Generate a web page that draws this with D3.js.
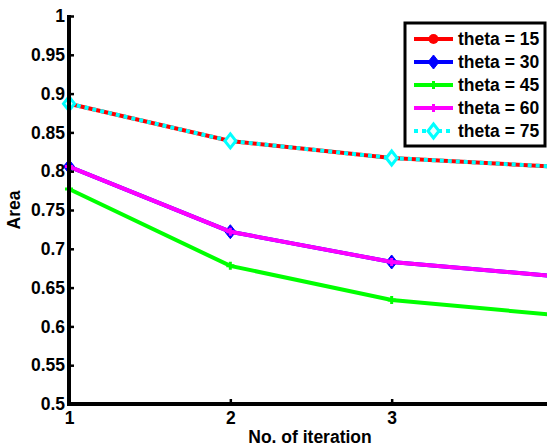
<!DOCTYPE html>
<html>
<head>
<meta charset="utf-8">
<script src="https://cdn.jsdelivr.net/npm/d3@7"></script>
<style>
  body { margin: 0; background: #fff; }
  svg { display: block; font-family: 'Liberation Sans', Arial, sans-serif; font-weight: bold; }
</style>
</head>
<body>
<svg id="chart" width="547" height="447"></svg>
<script>
// values
const iterations = [1, 2, 3, 4]
const theta15 = [0.887, 0.839, 0.817, 0.806]
const theta30 = [0.806, 0.722, 0.683, 0.665]
const theta45 = [0.777, 0.678, 0.634, 0.615]
const theta60 = [0.806, 0.722, 0.683, 0.665]
const theta75 = [0.887, 0.839, 0.817, 0.806]
const seriesNames = ['theta = 15', 'theta = 30', 'theta = 45', 'theta = 60', 'theta = 75']
const xTicks = [1, 2, 3]
const yTicks = [0.5, 0.55, 0.6, 0.65, 0.7, 0.75, 0.8, 0.85, 0.9, 0.95, 1]

const series = [
  {name: seriesNames[0], values: theta15, color: '#ff0000', marker: 'circle', dash: null},
  {name: seriesNames[1], values: theta30, color: '#0000ff', marker: 'diamond', dash: null},
  {name: seriesNames[2], values: theta45, color: '#00ff00', marker: 'plus', dash: null},
  {name: seriesNames[3], values: theta60, color: '#ff00ff', marker: 'plus', dash: null},
  {name: seriesNames[4], values: theta75, color: '#00ffff', marker: 'openDiamond', dash: '4,4'}
]

const fontSize = 17.5
const svg = d3.select('#chart')
const xScale = d3.scaleLinear().domain([1, 4]).range([69, 553])
const yScale = d3.scaleLinear().domain([0.5, 1]).range([404, 16])

let drawMarker = function (g, type, color, x, y, legend) {
  if (type === 'circle') {
    g.append('circle').attr('cx', x).attr('cy', y).attr('r', legend ? 5 : 3.5)
      .style('fill', color)
  } else if (type === 'diamond' || type === 'openDiamond') {
    let w = 5.5, h = 7
    g.append('path')
      .attr('d', `M${x},${y - h}L${x + w},${y}L${x},${y + h}L${x - w},${y}Z`)
      .style('fill', type === 'diamond' ? color : '#e8ffff')
      .style('stroke', color)
      .style('stroke-width', type === 'diamond' ? 1 : 3)
  } else if (type === 'plus') {
    let s = 4
    g.append('path')
      .attr('d', `M${x - s},${y}L${x + s},${y}M${x},${y - s}L${x},${y + s}`)
      .style('stroke', color)
      .style('stroke-width', 3)
  }
}

let plotLines = function () {
  let line = d3.line()
    .x((d, i) => xScale(iterations[i]))
    .y(d => yScale(d))
  let wrap = svg.append('g').classed('lines', true)
  series.forEach(s => {
    wrap.append('path')
      .attr('d', line(s.values))
      .style('fill', 'none')
      .style('stroke', s.color)
      .style('stroke-width', 4)
      .style('stroke-dasharray', s.dash)
    s.values.forEach((v, i) => drawMarker(wrap, s.marker, s.color, xScale(iterations[i]), yScale(v), false))
  })
}

let plotAxis = function () {
  let yAxis = svg.append('g')
    .attr('transform', `translate(${xScale(1)}, 0)`)
    .call(d3.axisRight(yScale).tickValues(yTicks).tickSize(5).tickFormat(d3.format('')))
  yAxis.select('.domain').remove()
  yAxis.selectAll('.tick line').style('stroke', '#000').style('stroke-width', 2.5)
  yAxis.selectAll('.tick text')
    .attr('x', -4)
    .style('text-anchor', 'end')
    .style('font-size', fontSize + 'px')
    .style('font-family', 'inherit')
    .style('fill', '#000')

  let xAxis = svg.append('g')
    .attr('transform', `translate(0, ${yScale(0.5)})`)
    .call(d3.axisTop(xScale).tickValues(xTicks).tickSize(5).tickFormat(d3.format('d')))
  xAxis.select('.domain').remove()
  xAxis.selectAll('.tick line').style('stroke', '#000').style('stroke-width', 2.5)
  xAxis.selectAll('.tick text')
    .attr('y', 20)
    .attr('dy', 0)
    .style('font-size', fontSize + 'px')
    .style('font-family', 'inherit')
    .style('fill', '#000')

  // axis lines
  svg.append('line')
    .attr('x1', xScale(1)).attr('x2', xScale(1))
    .attr('y1', yScale(1) - 1).attr('y2', yScale(0.5) + 2)
    .style('stroke', '#000').style('stroke-width', 4)
  svg.append('line')
    .attr('x1', xScale(1) - 2).attr('x2', xScale(4))
    .attr('y1', yScale(0.5)).attr('y2', yScale(0.5))
    .style('stroke', '#000').style('stroke-width', 4)

  svg.append('text')
    .attr('transform', `translate(20, ${(yScale(0.5) + yScale(1)) / 2}) rotate(-90)`)
    .style('text-anchor', 'middle')
    .style('font-size', fontSize + 'px')
    .text('Area')
  svg.append('text')
    .attr('x', 310)
    .attr('y', 443)
    .style('text-anchor', 'middle')
    .style('font-size', fontSize + 'px')
    .text('No. of iteration')
}

let plotLegend = function () {
  let legend = svg.append('g').classed('legend', true)
  legend.append('rect')
    .attr('x', 405).attr('y', 23).attr('width', 140).attr('height', 123)
    .style('fill', '#fff').style('stroke', '#000').style('stroke-width', 3)
  series.forEach((s, i) => {
    let y = 39 + i * 23
    legend.append('line')
      .attr('x1', 414).attr('x2', 453).attr('y1', y).attr('y2', y)
      .style('stroke', s.color).style('stroke-width', 4)
      .style('stroke-dasharray', s.dash)
    drawMarker(legend, s.marker, s.color, 433.5, y, true)
    legend.append('text')
      .attr('x', 458).attr('y', y + 6)
      .style('font-size', fontSize + 'px')
      .text(s.name)
  })
}

plotLines()
plotAxis()
plotLegend()
</script>
</body>
</html>
